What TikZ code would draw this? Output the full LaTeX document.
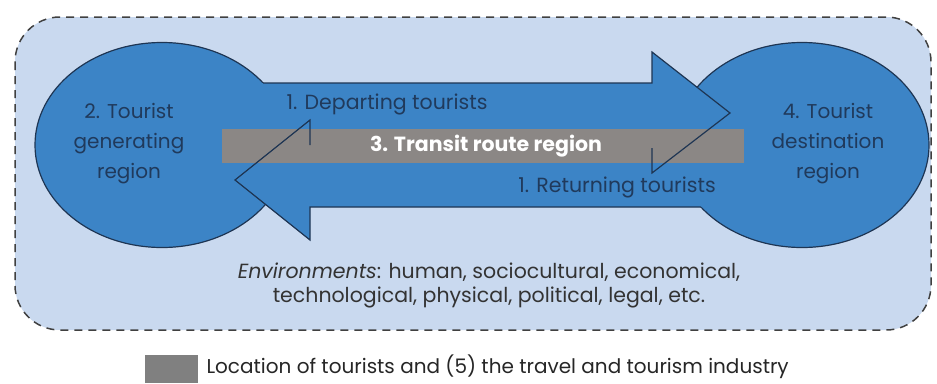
\documentclass[tikz,border=0pt]{standalone}
\usepackage{fontspec}
\setmainfont{Poppins}
\usetikzlibrary{shapes.geometric}
\definecolor{envblue}{HTML}{C9D9EF}
\definecolor{regionblue}{HTML}{3C84C6}
\definecolor{edgenavy}{HTML}{1E3553}
\definecolor{routegray}{HTML}{8B8785}
\definecolor{labelnavy}{HTML}{203A5C}

\tikzset{
  region/.style={ellipse,fill=regionblue,draw=edgenavy,line width=1.2pt,minimum width=254pt,minimum height=205pt,inner sep=0pt},
  regionlabel/.style={align=center,text=labelnavy,font=\fontsize{20}{30}\selectfont},
  flowlabel/.style={text=labelnavy,font=\fontsize{20.5}{24}\selectfont},
  outline/.style={draw=edgenavy,line width=1.2pt,line join=miter},
}

\begin{document}
\begin{tikzpicture}[x=1pt,y=-1pt]
\useasboundingbox (0,0) rectangle (937,383);
% environments
\draw[fill=envblue,draw=black!75,dash pattern=on 8pt off 6pt,line width=1.5pt,rounded corners=45pt] (15,17) rectangle (931,330);

\node[region] (gen) at (162,145) {};
\node[region] (dest) at (802,145) {};

% arrows
\fill[regionblue] (200,83) -- (652,83) -- (652,52) -- (730,113) -- (652,173) -- (652,148) -- (200,148) -- cycle;
\fill[regionblue] (760,145) -- (310,145) -- (310,120) -- (235,180) -- (310,240) -- (310,207) -- (760,207) -- cycle;

\fill[routegray] (222,129) rectangle (744,163);

\draw[outline] (263,83) -- (652,83) -- (652,52) -- (730,113) -- (652,173) -- (652,148);
\draw[outline] (701,207) -- (310,207) -- (310,240) -- (235,180) -- (310,120) -- (310,145);

\node[regionlabel] (genlabel) at (129,144) {2. Tourist\\generating\\region};
\node[regionlabel] (destlabel) at (828,144) {4. Tourist\\destination\\region};
\node[flowlabel] (depart) at (387,104) {1. Departing tourists};
\node[flowlabel] (return) at (617,187) {1. Returning tourists};
\node[text=white,font=\fontsize{20.5}{24}\selectfont\bfseries] (transit) at (486,146) {3. Transit route region};

\node[align=center,text=black!80,font=\fontsize{20.5}{24}\selectfont] (env) at (489,285) {\textit{Environments}: human, sociocultural, economical,\\technological, physical, political, legal, etc.};

% legend
\fill[gray] (145,355) rectangle (198,383);
\node[anchor=west,text=black!85,font=\fontsize{20}{24}\selectfont] (legend) at (203,367) {Location of tourists and (5) the travel and tourism industry};
\end{tikzpicture}
\end{document}
